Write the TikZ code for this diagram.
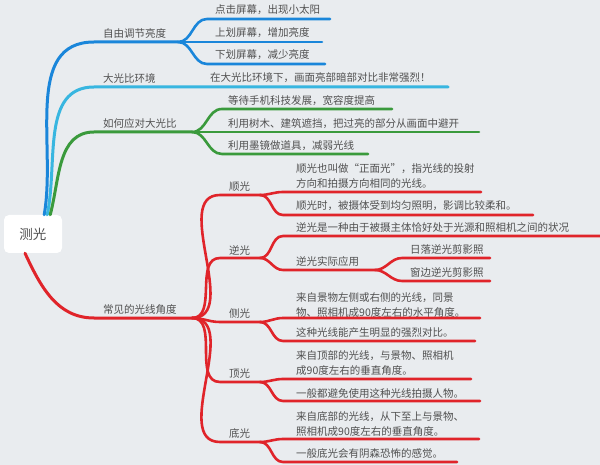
\documentclass[tikz,border=0pt]{standalone}
\usepackage{fontspec}
\newfontfamily\cjk{Noto Sans CJK SC}
\definecolor{bgcol}{HTML}{E9ECEF}
\definecolor{txtcol}{HTML}{505050}
\definecolor{bluebr}{HTML}{1A86DA}
\definecolor{cyanbr}{HTML}{38B6E0}
\definecolor{greenbr}{HTML}{3A9A3C}
\definecolor{redbr}{HTML}{E0242A}
\tikzset{
  lbl/.style={anchor=west, inner sep=0pt, text=txtcol, font=\cjk\fontsize{10.5}{15}\selectfont, align=left},
  rootbox/.style={rectangle, rounded corners=5pt, fill=white, minimum width=58pt, minimum height=38pt, text=txtcol, font=\cjk\fontsize{13.5}{15}\selectfont},
  br/.style={line width=3pt, line cap=round},
  sub/.style={line width=2.6pt, line cap=round},
}
\begin{document}
\begin{tikzpicture}[x=1pt, y=-1pt]
\fill[bgcol] (0,0) rectangle (600,465);
\useasboundingbox (0,0) rectangle (600,465);

\node (root) [rootbox] at (33,234) {测光};

% level 1
\coordinate (b1s) at (94,42);  \coordinate (b1e) at (178,42);
\coordinate (b2s) at (94,87);  \coordinate (b2e) at (448,87);
\coordinate (b3s) at (94,132); \coordinate (b3e) at (192,132);
\coordinate (b4s) at (94,318); \coordinate (b4e) at (192,318);
\node (b1) [lbl] at (103,33) {自由调节亮度};
\node (b2) [lbl] at (103,78) {大光比环境};
\node (b2a) [lbl] at (210,78) {在大光比环境下，画面亮部暗部对比非常强烈！};
\node (b3) [lbl] at (103,124) {如何应对大光比};
\node (b4) [lbl] at (103,310) {常见的光线角度};

\draw [br, bluebr] ([xshift=-18pt]root.north east) to[out=80, in=180] (b1s) -- (b1e);
\draw [br, cyanbr] ([xshift=-15pt]root.north east) to[out=78, in=180] (b2s) -- (b2e);
\draw [br, greenbr] ([xshift=-12pt]root.north east) to[out=75, in=180] (b3s) -- (b3e);
\draw [br, redbr] ([xshift=-8pt]root.south) to[out=-65, in=180] (b4s) -- (b4e);

% brightness
\foreach \n/\y/\e/\t in {1/19/330/点击屏幕，出现小太阳, 2/42/322/上划屏幕，增加亮度, 3/64/325/下划屏幕，减少亮度}{
  \coordinate (c\n s) at (207,\y); \coordinate (c\n e) at (\e,\y);
  \node (c\n) [lbl] at (215,\y-9) {\t};
  \draw [sub, bluebr] (b1e) to[out=0, in=180] (c\n s) -- (c\n e);
}
% strong contrast
\foreach \n/\y/\e/\t in {1/109/392/等待手机科技发展，宽容度提高, 2/132/479/利用树木、建筑遮挡，把过亮的部分从画面中避开, 3/154/368/利用墨镜做道具，减弱光线}{
  \coordinate (g\n s) at (222,\y); \coordinate (g\n e) at (\e,\y);
  \node (g\n) [lbl] at (228,\y-8) {\t};
  \draw [sub, greenbr] (b3e) to[out=0, in=180] (g\n s) -- (g\n e);
}
% light angles
\foreach \n/\y/\t in {1/195/顺光, 2/258/逆光, 3/322/侧光, 4/382/顶光, 5/442/底光}{
  \coordinate (r\n s) at (220,\y); \coordinate (r\n e) at (260,\y);
  \node (r\n) [lbl] at (229,\y-8) {\t};
  \draw [sub, redbr] (b4e) to[out=0, in=180] (r\n s) -- (r\n e);
}

\node (r1a) [lbl] at (296,176) {顺光也叫做“正面光”，指光线的投射\\方向和拍摄方向相同的光线。};
\node (r1b) [lbl] at (296,206) {顺光时，被摄体受到均匀照明，影调比较柔和。};
\node (r2a) [lbl] at (296,228) {逆光是一种由于被摄主体恰好处于光源和照相机之间的状况};
\node (r2b) [lbl] at (296,262) {逆光实际应用};
\node (r3a) [lbl] at (296,305) {来自景物左侧或右侧的光线，同景\\物、照相机成90度左右的水平角度。};
\node (r3b) [lbl] at (296,333) {这种光线能产生明显的强烈对比。};
\node (r4a) [lbl] at (296,363) {来自顶部的光线，与景物、照相机\\成90度左右的垂直角度。};
\node (r4b) [lbl] at (296,394) {一般都避免使用这种光线拍摄人物。};
\node (r5a) [lbl] at (296,424) {来自底部的光线，从下至上与景物、\\照相机成90度左右的垂直角度。};
\node (r5b) [lbl] at (296,454) {一般底光会有阴森恐怖的感觉。};

\foreach \p/\n/\y/\e in {1/a/192/481, 1/b/215/533, 2/a/236/600, 2/b/270/375, 3/a/318/480, 3/b/341/475, 4/a/379/471, 4/b/401/480, 5/a/439/479, 5/b/462/457}{
  \coordinate (r\p\n s) at (283,\y); \coordinate (r\p\n e) at (\e,\y);
  \draw [sub, redbr] (r\p e) to[out=0, in=180] (r\p\n s) -- (r\p\n e);
}

% backlight use
\foreach \n/\y/\t in {1/258/日落逆光剪影照, 2/281/窗边逆光剪影照}{
  \coordinate (u\n s) at (402,\y); \coordinate (u\n e) at (490,\y);
  \node (u\n) [lbl] at (410,\y-8) {\t};
  \draw [sub, redbr] (r2be) to[out=0, in=180] (u\n s) -- (u\n e);
}
\end{tikzpicture}
\end{document}
